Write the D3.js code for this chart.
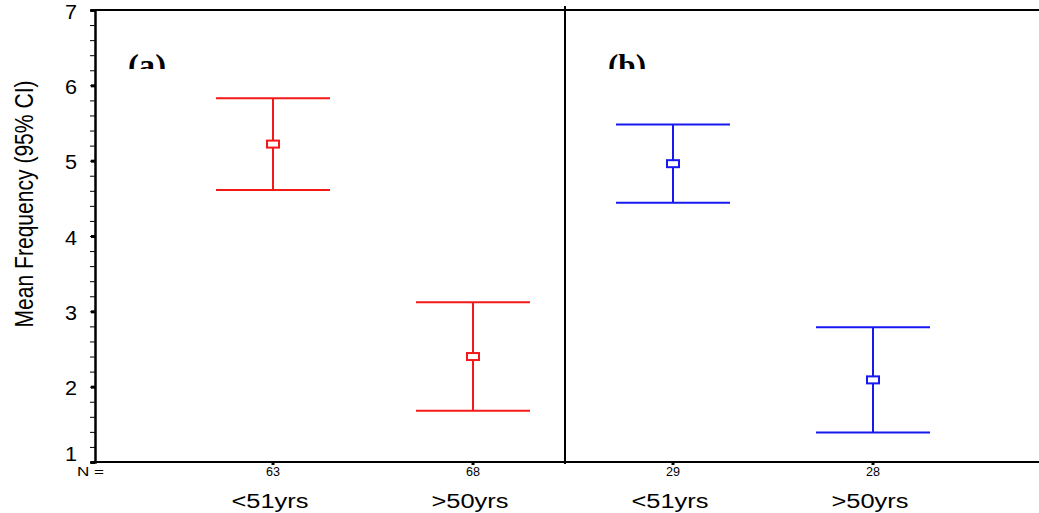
<!DOCTYPE html>
<html>
<head>
<meta charset="utf-8">
<script src="https://cdn.jsdelivr.net/npm/d3@7"></script>
<style>
  body { margin: 0; background: #fff; }
</style>
</head>
<body>
<div class="chart"></div>
<script>
// chart data
const groups = ['a1', 'a2', 'b1', 'b2'];
const panels = ['a', 'a', 'b', 'b'];
const ageLabels = ['<51yrs', '>50yrs', '<51yrs', '>50yrs'];
const counts = [63, 68, 29, 28];
const means = [5.22, 2.40, 4.96, 2.09];
const lower = [4.61, 1.68, 4.44, 1.39];
const upper = [5.83, 3.12, 5.48, 2.79];
const panelLabels = ['(a)', '(b)'];
const yTicks = [1, 2, 3, 4, 5, 6, 7];

const width = 1039;
const height = 513;
const margin = { top: 10, right: 0, bottom: 52, left: 95 };

const sans = '"Liberation Sans", Arial, sans-serif';
const colors = { a: '#f51818', b: '#1818f0' };

const svg = d3.select('.chart')
  .append('svg')
    .attr('width', width)
    .attr('height', height)
    .style('font-family', sans);

const y = d3.scaleLinear()
  .domain([1, 7])
  .range([height - margin.bottom + 1, margin.top]);

const x = d3.scalePoint()
  .domain(groups)
  .range([273, 873]);

// frame: top line and bottom axis line
svg.append('line')
  .attr('x1', margin.left).attr('x2', width)
  .attr('y1', y(7)).attr('y2', y(7))
  .attr('stroke', '#000').attr('stroke-width', 2);
svg.append('line')
  .attr('x1', margin.left).attr('x2', width)
  .attr('y1', y(1)).attr('y2', y(1))
  .attr('stroke', '#000').attr('stroke-width', 2);

// panel divider
svg.append('line')
  .attr('x1', 565).attr('x2', 565)
  .attr('y1', y(7) - 4).attr('y2', y(1) + 2)
  .attr('stroke', '#000').attr('stroke-width', 2);

// y axis with minor ticks
const yAxisG = svg.append('g')
  .attr('transform', `translate(${margin.left},0)`);

yAxisG.call(d3.axisLeft(y).tickValues(d3.range(1, 7.001, 0.2)).tickSize(5).tickFormat(''))
  .call(g => g.select('.domain').attr('stroke-width', 2.5))
  .call(g => g.selectAll('.tick line').attr('stroke-width', 1));

yAxisG.append('g')
  .call(d3.axisLeft(y).tickValues(yTicks).tickSize(4).tickPadding(14).tickFormat(d3.format('d')))
  .call(g => g.select('.domain').remove())
  .call(g => g.selectAll('.tick line').attr('stroke-width', 3))
  .call(g => g.selectAll('.tick text')
    .style('font-family', sans)
    .style('font-size', '20px')
    .attr('fill', '#000')
    .attr('textLength', 12)
    .attr('lengthAdjust', 'spacingAndGlyphs')
    .attr('dy', d => d === 1 ? '-0.1em' : '0.4em'));

// y axis title
svg.append('text')
  .attr('transform', 'translate(33,204) rotate(-90)')
  .attr('text-anchor', 'middle')
  .style('font-family', '"Liberation Sans Narrow", "Liberation Sans", sans-serif')
  .style('font-size', '25px')
  .attr('textLength', 247)
  .attr('lengthAdjust', 'spacingAndGlyphs')
  .text('Mean Frequency (95% CI)');

// bottom tick marks and N labels
svg.selectAll('.xtick')
  .data(groups)
  .join('line')
    .attr('class', 'xtick')
    .attr('x1', d => x(d)).attr('x2', d => x(d))
    .attr('y1', y(1)).attr('y2', y(1) + 3)
    .attr('stroke', '#000').attr('stroke-width', 3);

svg.append('text')
  .attr('x', 77).attr('y', 476)
  .style('font-size', '13px')
  .attr('textLength', 27)
  .attr('lengthAdjust', 'spacingAndGlyphs')
  .text('N =');

svg.selectAll('.ncount')
  .data(groups)
  .join('text')
    .attr('class', 'ncount')
    .attr('x', d => x(d))
    .attr('y', 476)
    .attr('text-anchor', 'middle')
    .style('font-size', '13px')
    .attr('textLength', 14)
    .attr('lengthAdjust', 'spacingAndGlyphs')
    .text((d, i) => counts[i]);

svg.selectAll('.agelabel')
  .data(groups)
  .join('text')
    .attr('class', 'agelabel')
    .attr('x', d => x(d) - 3)
    .attr('y', 508)
    .attr('text-anchor', 'middle')
    .style('font-size', '20px')
    .attr('textLength', 77)
    .attr('lengthAdjust', 'spacingAndGlyphs')
    .text((d, i) => ageLabels[i]);

// panel labels, clipped at the bottom like the original
svg.append('clipPath')
  .attr('id', 'labelclip')
  .append('rect')
    .attr('x', 0).attr('y', 0)
    .attr('width', width).attr('height', 69);

svg.selectAll('.panellabel')
  .data(panelLabels)
  .join('text')
    .attr('class', 'panellabel')
    .attr('clip-path', 'url(#labelclip)')
    .attr('x', (d, i) => i === 0 ? 128 : 608)
    .attr('y', 76)
    .style('font-family', '"Liberation Serif", "Times New Roman", serif')
    .style('font-weight', 'bold')
    .style('font-size', '31px')
    .attr('textLength', 38)
    .attr('lengthAdjust', 'spacingAndGlyphs')
    .text(d => d);

// error bars
const capHalf = 57;
const bars = svg.selectAll('.errbar')
  .data(groups)
  .join('g')
    .attr('class', 'errbar')
    .attr('stroke', (d, i) => colors[panels[i]])
    .attr('stroke-width', 2)
    .attr('fill', 'none');

bars.append('line')
  .attr('x1', d => x(d)).attr('x2', d => x(d))
  .attr('y1', (d, i) => y(upper[i])).attr('y2', (d, i) => y(lower[i]));

bars.append('line')
  .attr('x1', d => x(d) - capHalf).attr('x2', d => x(d) + capHalf)
  .attr('y1', (d, i) => y(upper[i])).attr('y2', (d, i) => y(upper[i]));

bars.append('line')
  .attr('x1', d => x(d) - capHalf).attr('x2', d => x(d) + capHalf)
  .attr('y1', (d, i) => y(lower[i])).attr('y2', (d, i) => y(lower[i]));

bars.append('rect')
  .attr('x', d => x(d) - 6)
  .attr('y', (d, i) => y(means[i]) - 3.5)
  .attr('width', 12)
  .attr('height', 7)
  .attr('fill', '#fff');
</script>
</body>
</html>
